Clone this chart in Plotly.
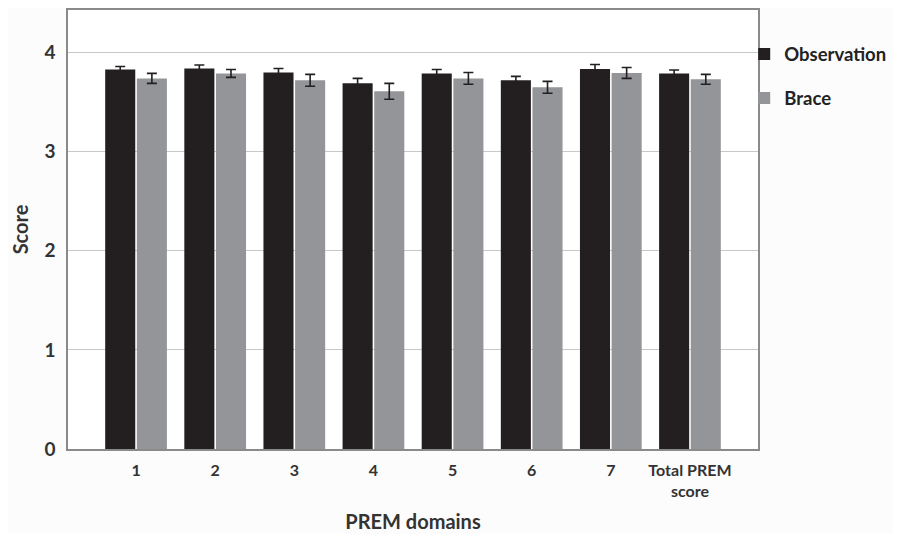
import plotly.graph_objects as go

categories = ["1", "2", "3", "4", "5", "6", "7", "Total PREM<br>score"]
observation = [3.83, 3.84, 3.80, 3.69, 3.79, 3.72, 3.835, 3.79]
observation_err = [0.03, 0.035, 0.04, 0.05, 0.04, 0.04, 0.045, 0.035]
brace = [3.74, 3.79, 3.72, 3.61, 3.74, 3.65, 3.795, 3.73]
brace_err = [0.05, 0.04, 0.06, 0.08, 0.06, 0.06, 0.055, 0.05]
y_ticks = [0, 1, 2, 3, 4]

font_family = "Lato, 'Open Sans', sans-serif"

fig = go.Figure()
fig.add_trace(go.Bar(
    name="<b>Observation</b>", x=categories, y=observation,
    marker=dict(color="#231f20", line=dict(width=0)),
    error_y=dict(type="data", array=observation_err, color="#231f20", thickness=1.6, width=5),
    legendgroup="a",
))
fig.add_trace(go.Bar(
    name="<b>Brace</b>", x=categories, y=brace,
    marker=dict(color="#939598", line=dict(width=0)),
    error_y=dict(type="data", array=brace_err, color="#231f20", thickness=1.6, width=5),
    legendgroup="b",
))

fig.update_layout(
    width=893, height=526,
    margin=dict(l=60, r=143, t=2, b=85, autoexpand=False),
    paper_bgcolor="#fcfcfc",
    plot_bgcolor="#ffffff",
    barmode="group",
    bargap=0.2,
    bargroupgap=0.05,
    font=dict(family=font_family, color="#333333"),
    legend=dict(
        x=0.98, xanchor="left", y=0.942, yanchor="top",
        font=dict(size=18.5, color="#222222"),
        tracegroupgap=17,
        bgcolor="rgba(0,0,0,0)",
        itemwidth=30,
    ),
    showlegend=True,
)
fig.update_xaxes(
    type="category",
    range=[-0.86, 7.86],
    showline=True, linecolor="#8a8a8a", linewidth=1.5, mirror=True,
    showgrid=False,
    ticks="", ticklabelstandoff=6,
    tickfont=dict(size=16, color="#333333", weight="bold"),
    title=dict(text="<b>PREM domains</b>", font=dict(size=20, color="#333333"), standoff=16),
)
fig.update_yaxes(
    range=[0, 4.43],
    tickvals=y_ticks,
    showline=True, linecolor="#8a8a8a", linewidth=1.5, mirror=True,
    showgrid=True, gridcolor="#c8c8c8", gridwidth=1,
    zeroline=False,
    ticks="", ticklabelstandoff=7,
    tickfont=dict(size=19, color="#333333", weight="bold"),
    title=dict(text="<b>Score</b>", font=dict(size=20, color="#333333"), standoff=20),
)

fig.write_html("out.html")
